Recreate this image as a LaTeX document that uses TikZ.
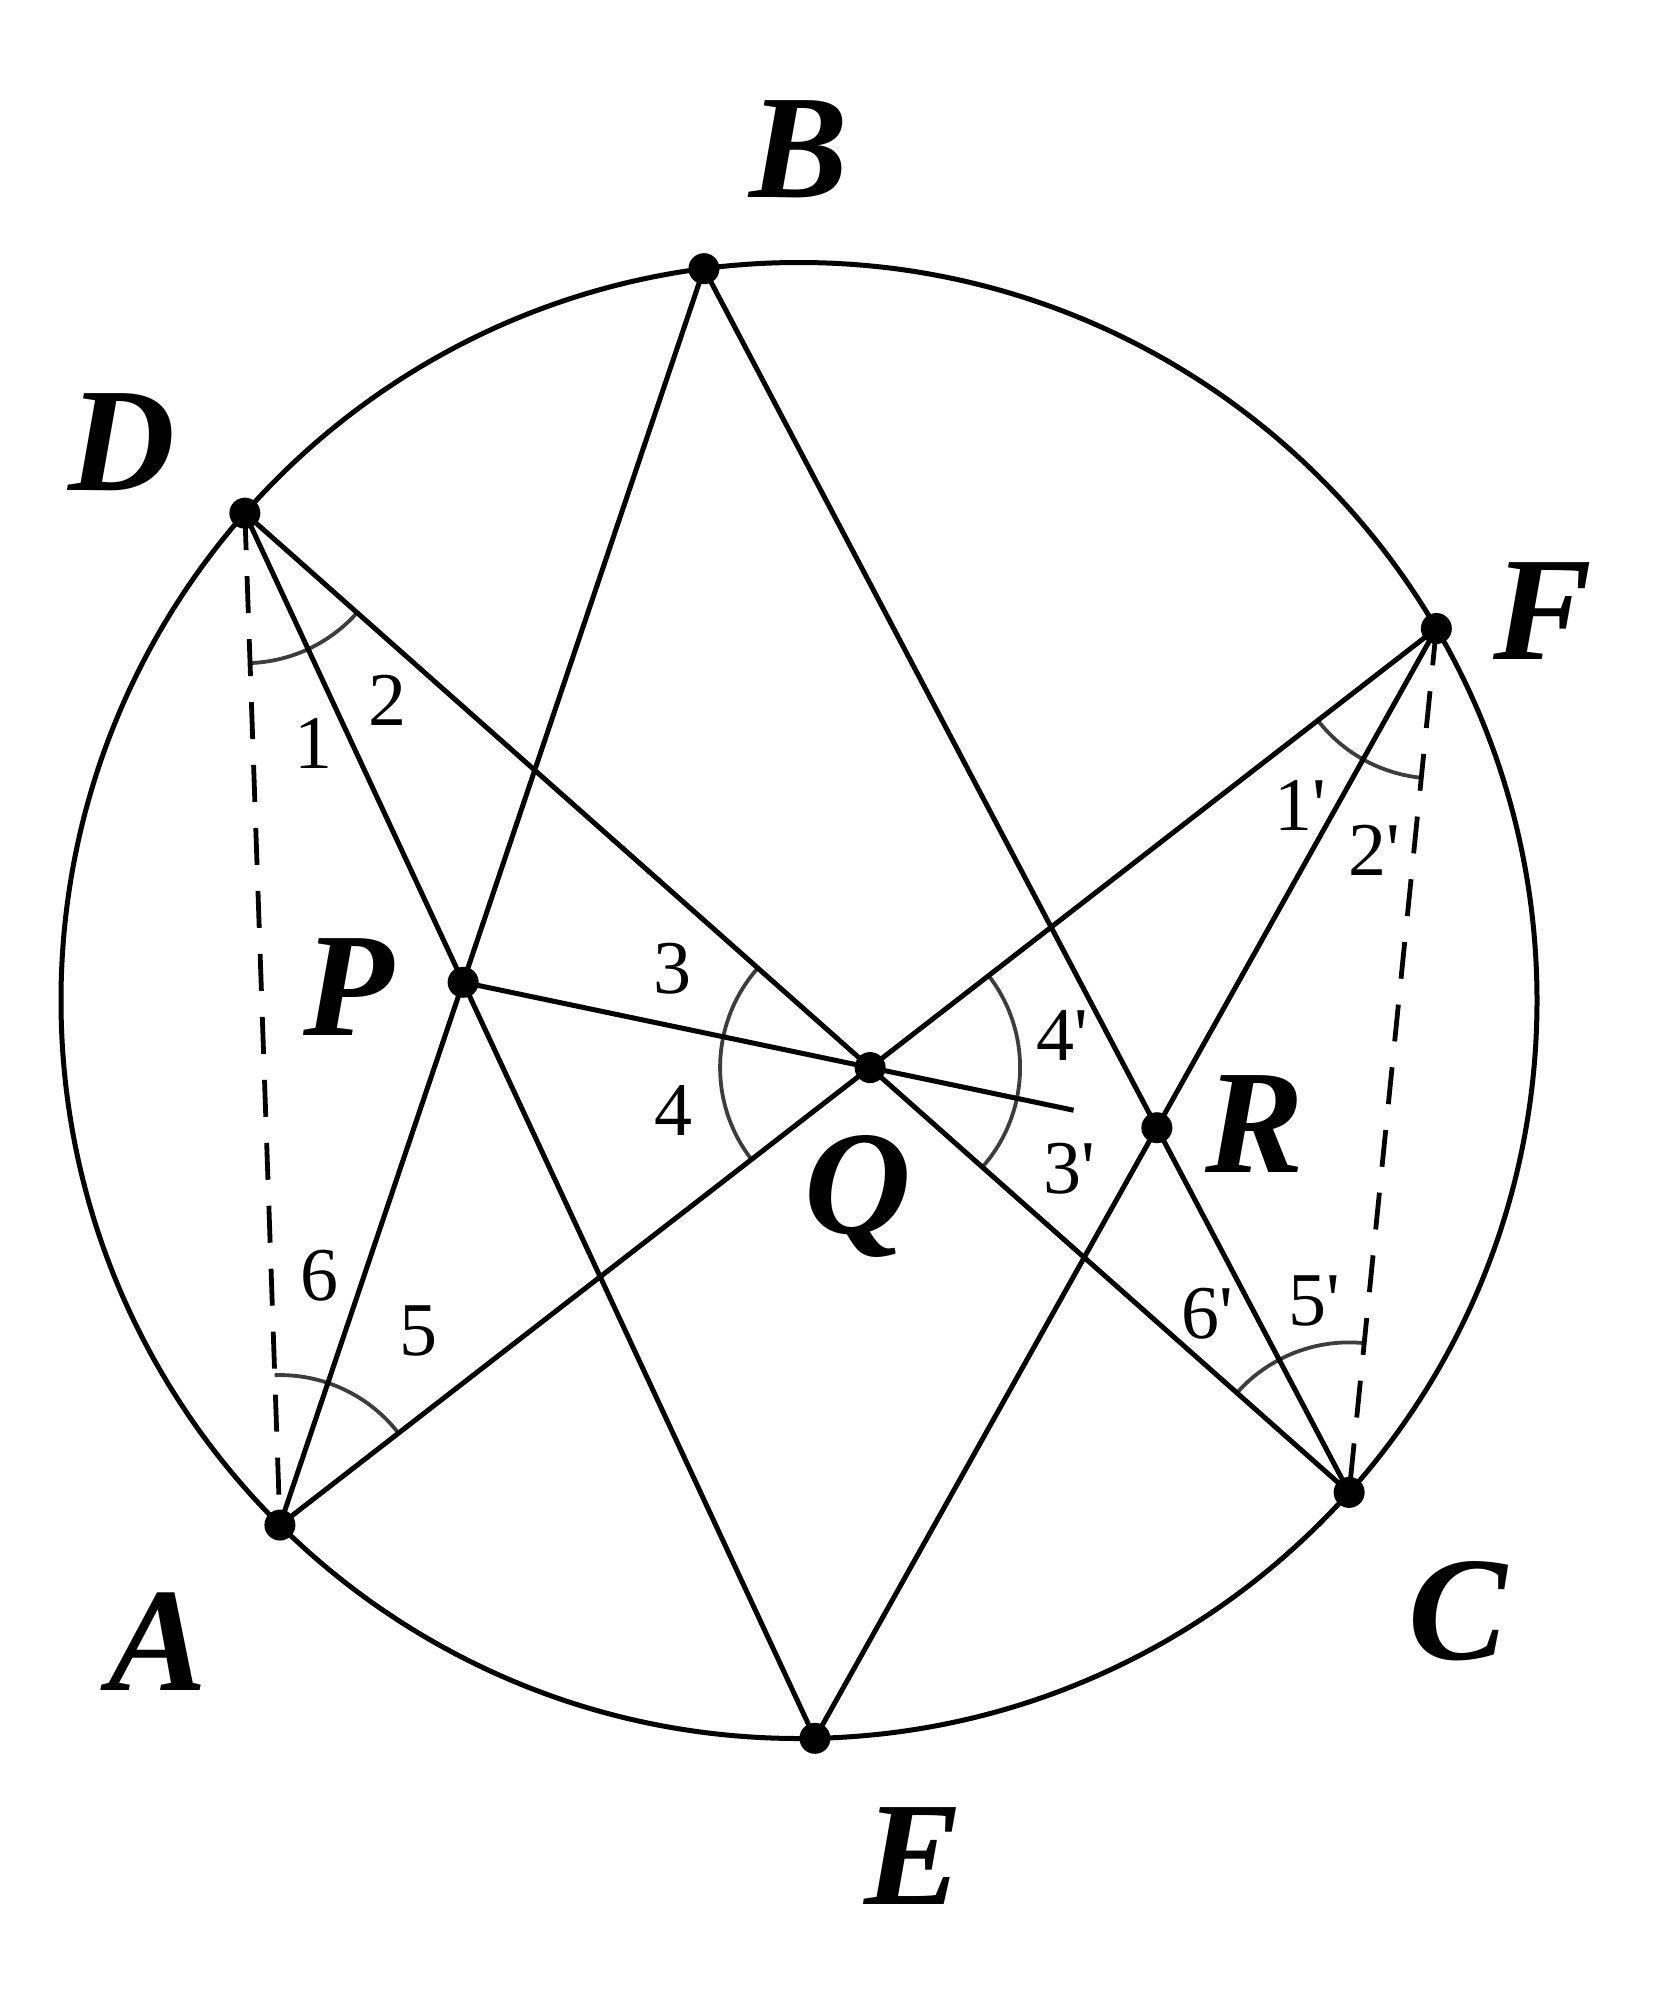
\documentclass[tikz,border=0pt]{standalone}
\usepackage{fontspec}
\setmainfont{Liberation Serif}[Ligatures=TeXOff]
\usetikzlibrary{angles,calc}
\begin{document}
\begin{tikzpicture}[x=1pt,y=-1pt,
  edge/.style={line width=5pt},
  dashedge/.style={line width=4.8pt, dash pattern=on 37pt off 26pt},
  anglearc/.style={draw=black!76, line width=3.8pt, angle radius=150pt},
  ptlabel/.style={anchor=base, inner sep=0pt, font=\fontsize{148}{160}\selectfont\bfseries\itshape},
  numlabel/.style={anchor=base, inner sep=0pt, font=\fontsize{76}{80}\selectfont}]
\useasboundingbox (0,0) rectangle (1670,2007);
% points on the circle
\coordinate (O) at (799,1000.5);
\coordinate (B) at ($(O)+(-97.4:738)$);
\coordinate (D) at ($(O)+(-138.67:738)$);
\coordinate (F) at ($(O)+(-30.27:738)$);
\coordinate (A) at ($(O)+(134.7:738)$);
\coordinate (C) at ($(O)+(41.8:738)$);
\coordinate (E) at ($(O)+(88.76:738)$);
% intersection points
\coordinate (P) at (intersection of A--B and D--E);
\coordinate (Q) at (intersection of A--F and D--C);
\coordinate (R) at (intersection of B--C and E--F);
\coordinate (Pend) at ($(P)!1.5!(Q)$);
% angle arcs
\pic[anglearc] {angle=A--D--C};
\pic[anglearc] {angle=A--F--C};
\pic[anglearc] {angle=F--A--D};
\pic[anglearc] {angle=F--C--D};
\pic[anglearc] {angle=D--Q--A};
\pic[anglearc] {angle=C--Q--F};
% circle
\draw[edge] (O) circle (738);
% lines
\draw[edge] (B) -- (A);
\draw[edge] (B) -- (C);
\draw[edge] (D) -- (E);
\draw[edge] (D) -- (C);
\draw[edge] (F) -- (A);
\draw[edge] (F) -- (E);
\draw[edge] (P) -- (Pend);
\draw[dashedge] (D) -- (A);
\draw[dashedge] (F) -- (C);
% dots
\foreach \p in {A,B,C,D,E,F,P,Q,R} \fill (\p) circle (15.5);
% point labels
\node[ptlabel] (lB) at (799,197) {B};
\node[ptlabel] (lD) at (122,490.7) {D};
\node[ptlabel] (lF) at (1542.5,659.3) {F};
\node[ptlabel] (lA) at (158,1690.7) {A};
\node[ptlabel] (lC) at (1458,1659) {C};
\node[ptlabel] (lE) at (914,1904) {E};
\node[ptlabel] (lP) at (349,1035) {P};
\node[ptlabel] (lQ) at (858,1233) {Q};
\node[ptlabel] (lR) at (1255,1172.7) {R};
% angle labels
\node[numlabel] (n1) at (313,768.3) {1};
\node[numlabel] (n2) at (387,725) {2};
\node[numlabel] (n1p) at (1300,830) {1'};
\node[numlabel] (n2p) at (1374,875) {2'};
\node[numlabel] (n6) at (319,1300) {6};
\node[numlabel] (n5) at (418,1355) {5};
\node[numlabel] (n6p) at (1207,1338) {6'};
\node[numlabel] (n5p) at (1314,1325) {5'};
\node[numlabel] (n3) at (672,993) {3};
\node[numlabel] (n4) at (673,1135) {4};
\node[numlabel] (n4p) at (1062,1060) {4'};
\node[numlabel] (n3p) at (1069,1193) {3'};
\end{tikzpicture}
\end{document}
